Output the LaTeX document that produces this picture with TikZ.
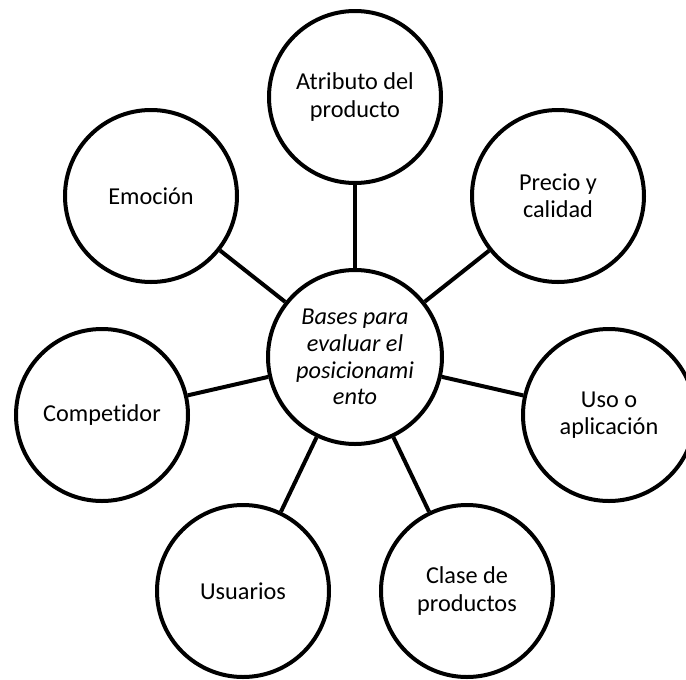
\documentclass[tikz,border=0pt]{standalone}
\usepackage{fontspec}
\setmainfont{Carlito}[Ligatures={NoCommon}]
\begin{document}
\begin{tikzpicture}[x=0.75pt,y=-0.75pt,
  bubble/.style={circle,draw=black,line width=3pt,minimum size=129pt,inner sep=0pt,align=center,font=\fontsize{18.2}{20.3}\selectfont},
  hub/.style={circle,draw=black,line width=3pt,minimum size=130.5pt,inner sep=0pt,align=center,font=\fontsize{18.2}{20}\selectfont\itshape},
  link/.style={line width=3pt}]
\useasboundingbox (0,0) rectangle (686,679);
\node[hub] (c) at (355,357) {Bases para\\evaluar el\\posicionami\\ento};
\node[bubble] (a) at (355,97) {Atributo del\\producto};
\node[bubble] (p) at (558,196) {Precio y\\calidad};
\node[bubble] (u) at (609,415) {Uso o\\aplicación};
\node[bubble] (k) at (467,591) {Clase de\\productos};
\node[bubble] (s) at (243,591) {Usuarios};
\node[bubble] (m) at (102,415) {Competidor};
\node[bubble] (e) at (151,196) {Emoción};
\foreach \n in {a,p,u,k,s,m,e} \draw[link] (c) -- (\n);
\end{tikzpicture}
\end{document}
